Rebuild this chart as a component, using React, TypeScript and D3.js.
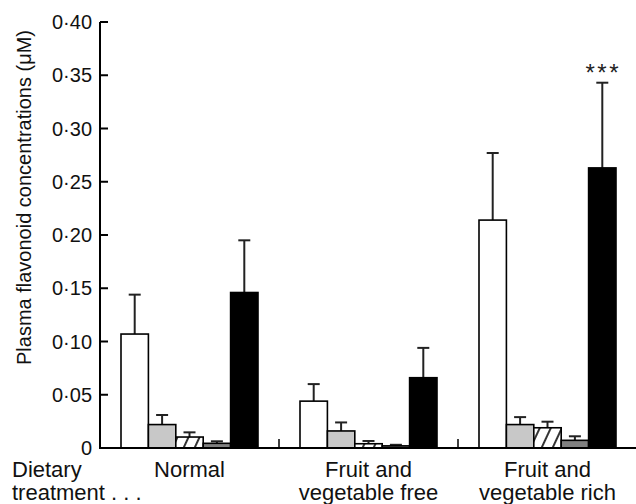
import React from "react";
import * as d3 from "d3";

const groups = ["Normal", "Fruit and vegetable free", "Fruit and vegetable rich"];
const groupLines = [["Normal"], ["Fruit and", "vegetable free"], ["Fruit and", "vegetable rich"]];
const series = ["Flavonoid A", "Flavonoid B", "Flavonoid C", "Flavonoid D", "Total"];
const meanNormal = [0.107, 0.022, 0.0103, 0.0044, 0.146];
const meanFree = [0.044, 0.016, 0.004, 0.002, 0.066];
const meanRich = [0.214, 0.022, 0.019, 0.0072, 0.263];
const seNormal = [0.037, 0.009, 0.0044, 0.0019, 0.049];
const seFree = [0.016, 0.008, 0.0026, 0.001, 0.028];
const seRich = [0.063, 0.007, 0.0057, 0.0038, 0.08];
const yTicks = [0, 0.05, 0.1, 0.15, 0.2, 0.25, 0.3, 0.35, 0.4];
const yTickLabels = ["0", "0·05", "0·10", "0·15", "0·20", "0·25", "0·30", "0·35", "0·40"];
const significance = [null, null, "***"];

const fills = ["#ffffff", "#c8c8c8", "url(#hatch)", "#808080", "#000000"];
const FONT = "'Liberation Sans', Arial, Helvetica, sans-serif";

export default function App() {
  const W = 636, H = 504;
  const x0 = d3.scaleBand<string>().domain(groups).range([100, 637]).padding(0);
  const x1 = d3.scaleBand<string>().domain(series).range([21, x0.bandwidth() - 21]).padding(0);
  const y = d3.scaleLinear().domain([0, 0.4]).range([448, 22]);
  const means = [meanNormal, meanFree, meanRich];
  const ses = [seNormal, seFree, seRich];

  return (
    <svg width={W} height={H} style={{ position: "absolute", left: 0, top: 0, background: "#fff" }} fontFamily={FONT}>
      <defs>
        <pattern id="hatch" width={10} height={10} patternUnits="userSpaceOnUse" patternTransform="rotate(25)">
          <rect width={10} height={10} fill="#fff" />
          <line x1={5} y1={0} x2={5} y2={10} stroke="#000" strokeWidth={1.6} />
        </pattern>
      </defs>

      {/* bars */}
      {groups.map((g, gi) => (
        <g key={g} transform={`translate(${x0(g)},0)`}>
          {series.map((s, si) => {
            const v = means[gi][si];
            const e = ses[gi][si];
            const bx = x1(s)!;
            const bw = x1.bandwidth();
            const cx = bx + bw / 2;
            return (
              <g key={s}>
                <line x1={cx} x2={cx} y1={y(v)} y2={y(v + e)} stroke="#222" strokeWidth={2} />
                <line x1={cx - 6} x2={cx + 6} y1={y(v + e)} y2={y(v + e)} stroke="#222" strokeWidth={2} />
                <rect x={bx} y={y(v)} width={bw} height={y(0) - y(v)} fill={fills[si]} stroke="#000" strokeWidth={1.6} />
              </g>
            );
          })}
          {significance[gi] && (
            <text
              x={x1("Total")! + x1.bandwidth() / 2 + 1}
              y={y(means[gi][4] + ses[gi][4]) - 2}
              textAnchor="middle"
              fontSize={24}
              letterSpacing={2.5}
              fill="#222"
            >
              {significance[gi]}
            </text>
          )}
        </g>
      ))}

      {/* axes */}
      <line x1={100} x2={100} y1={y(0.4)} y2={y(0) + 1} stroke="#000" strokeWidth={2} />
      <line x1={99} x2={637} y1={y(0)} y2={y(0)} stroke="#000" strokeWidth={2} />
      {yTicks.map((t, i) => (
        <g key={t}>
          <line x1={100} x2={108} y1={y(t)} y2={y(t)} stroke="#000" strokeWidth={2} />
          <text x={92} y={y(t) + 7} textAnchor="end" fontSize={20} fill="#111">
            {yTickLabels[i]}
          </text>
        </g>
      ))}
      {groups.slice(1).map((g) => (
        <line key={g} x1={x0(g)!} x2={x0(g)!} y1={y(0)} y2={y(0) - 9} stroke="#000" strokeWidth={1.5} />
      ))}

      {/* category labels */}
      {groups.map((g, gi) =>
        groupLines[gi].map((ln, li) => (
          <text key={g + li} x={x0(g)! + x0.bandwidth() / 2} y={477 + li * 23} textAnchor="middle" fontSize={22} fill="#111">
            {ln}
          </text>
        ))
      )}
      <text x={12} y={477} fontSize={22} fill="#111">Dietary</text>
      <text x={12} y={500} fontSize={22} fill="#111">treatment . . .</text>

      {/* y title */}
      <text transform="translate(31,197.5) rotate(-90)" textAnchor="middle" fontSize={20} fill="#111">
        Plasma flavonoid concentrations (μM)
      </text>
    </svg>
  );
}
